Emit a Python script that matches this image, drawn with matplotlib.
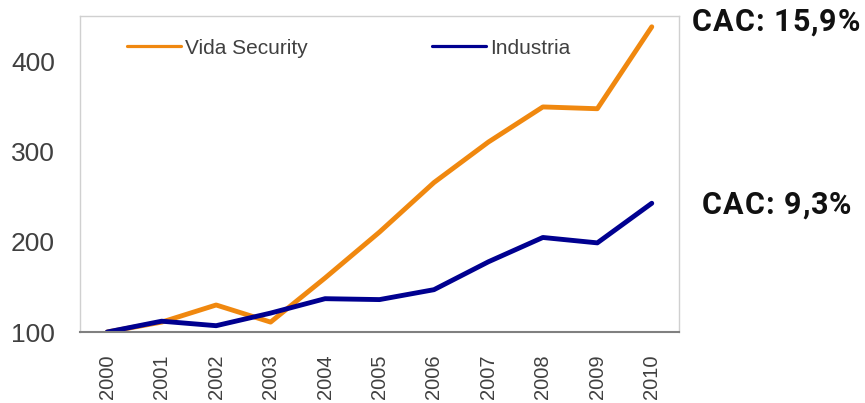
import matplotlib
matplotlib.use("Agg")
from matplotlib import pyplot as plt

years = ["2000", "2001", "2002", "2003", "2004", "2005", "2006", "2007", "2008", "2009", "2010"]
vida_security = [100, 111, 130, 111, 160, 211, 266, 311, 350, 348, 439]
industria = [100, 112, 107, 121, 137, 136, 147, 178, 205, 199, 243]
y_ticks = [100, 200, 300, 400]

ORANGE = "#F0880F"
NAVY = "#000090"

plt.rcParams["font.family"] = ["Liberation Sans", "DejaVu Sans"]

fig = plt.figure(figsize=(8.65, 4.03), dpi=100)
ax = fig.add_axes([80 / 865, 1 - 332 / 403, (679 - 80) / 865, (332 - 16) / 403])

x = range(len(years))
ax.plot(x, vida_security, color=ORANGE, lw=3.5, label="Vida Security", solid_capstyle="round")
ax.plot(x, industria, color=NAVY, lw=3.5, label="Industria", solid_capstyle="round")

ax.set_xlim(-0.5, len(years) - 0.5)
ax.set_ylim(100, 451)
ax.set_yticks(y_ticks)
ax.set_yticklabels([str(v) for v in y_ticks], fontsize=19, color="#404040")
ax.set_xticks(list(x))
ax.set_xticklabels(years, rotation=90, fontsize=14.5, color="#404040")
ax.tick_params(axis="both", length=0)
ax.tick_params(axis="y", pad=18)
ax.tick_params(axis="x", pad=16)

for side in ["left", "top", "right"]:
    ax.spines[side].set_color("#d0d0d0")
    ax.spines[side].set_linewidth(1)
ax.spines["bottom"].set_color("#808080")
ax.spines["bottom"].set_linewidth(1.5)

leg = ax.legend(loc="center left", bbox_to_anchor=((127 - 80) / 599, (332 - 48) / 316),
                ncol=2, frameon=False, fontsize=15, handlelength=2.6, handletextpad=0.2,
                columnspacing=5.95, borderpad=0, borderaxespad=0, labelcolor="#404040")
for line in leg.get_lines():
    line.set_linewidth(2.3)


def spaced_text(x0, y0, s, tracking=1.6, **kw):
    # draw text char by char (pixel coords) with extra letter spacing
    renderer = fig.canvas.get_renderer()
    probe = fig.text(0, 0, "nn", **kw)
    w_nn = probe.get_window_extent(renderer).width
    probe.set_text("n n")
    space_w = probe.get_window_extent(renderer).width - w_nn
    probe.remove()
    xpos = x0
    for ch in s:
        if ch == " ":
            xpos += space_w + tracking
            continue
        t = fig.text(xpos / 865, 1 - y0 / 403, ch, va="center", ha="left", **kw)
        xpos += t.get_window_extent(renderer).width + tracking


cac_style = dict(fontsize=22, fontweight="bold", family="Roboto", color="#111111")
spaced_text(692, 22, "CAC: 15,9%", tracking=1.0, **cac_style)
spaced_text(702, 205, "CAC: 9,3%", tracking=1.0, **cac_style)

fig.savefig("out.png", dpi=100)
